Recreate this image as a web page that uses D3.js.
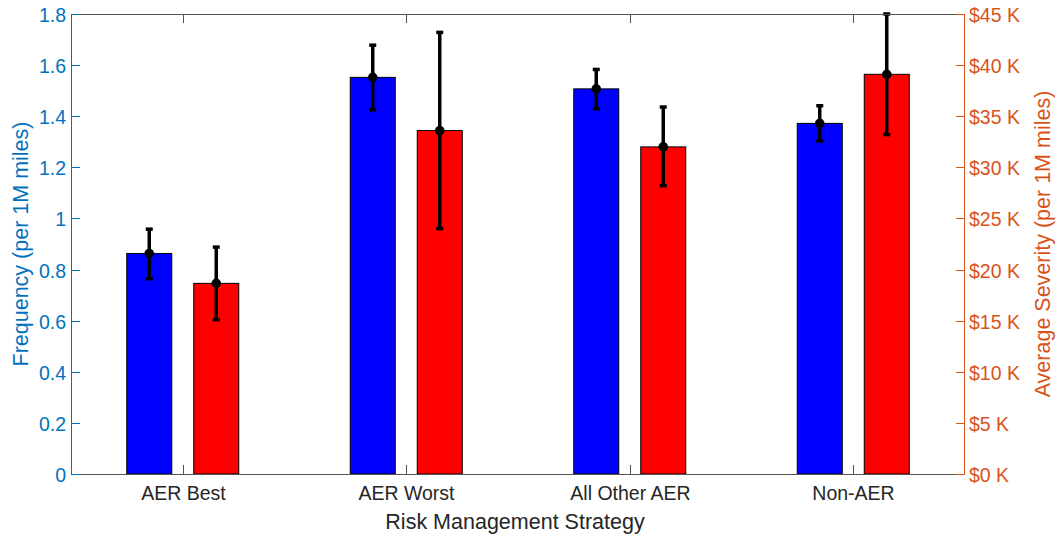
<!DOCTYPE html>
<html><head><meta charset="utf-8">
<script src="https://cdn.jsdelivr.net/npm/d3@7"></script>
<style>body{margin:0;background:#fff;} svg{display:block;font-family:"Liberation Sans",Arial,sans-serif;}</style>
</head><body>
<script>
const categories = ["AER Best","AER Worst","All Other AER","Non-AER"];
const frequency = [0.863,1.552,1.507,1.372];
const frequencyLow = [0.764,1.425,1.429,1.303];
const frequencyHigh = [0.958,1.678,1.583,1.441];
const severity = [18.65,33.6,32.0,39.1];
const severityLow = [15.1,24.0,28.2,33.2];
const severityHigh = [22.2,43.2,35.9,45.0];
const leftTicks = [0,0.2,0.4,0.6,0.8,1,1.2,1.4,1.6,1.8];
const rightTicks = [0,5,10,15,20,25,30,35,40,45];

const W=1061,H=537;
const m={l:71,r:96,t:14,b:63};
const x0=m.l,x1=W-m.r,y0=H-m.b,y1=m.t;
const svg=d3.select("body").append("svg").attr("width",W).attr("height",H);
const x=d3.scaleBand().domain(categories).range([x0,x1]).padding(0);
const yL=d3.scaleLinear().domain([0,1.8]).range([y0,y1]);
const yR=d3.scaleLinear().domain([0,45]).range([y0,y1]);
const blue="#0072BD",orange="#D95319";
const off=33.5,bw=45;
const tickFS=19.5,labFS=21.5;

// bars
const g=svg.append("g");
g.selectAll(".bb").data(categories).join("rect")
 .attr("x",d=>x(d)+x.bandwidth()/2-off-bw/2).attr("width",bw)
 .attr("y",(d,i)=>yL(frequency[i])).attr("height",(d,i)=>y0-yL(frequency[i]))
 .attr("fill","#0000FF").attr("stroke","#000").attr("stroke-width",1);
g.selectAll(".rb").data(categories).join("rect")
 .attr("x",d=>x(d)+x.bandwidth()/2+off-bw/2).attr("width",bw)
 .attr("y",(d,i)=>yR(severity[i])).attr("height",(d,i)=>y0-yR(severity[i]))
 .attr("fill","#FF0000").attr("stroke","#000").attr("stroke-width",1);

// error bars
function err(cx,v,lo,hi,ys){
  const e=svg.append("g");
  e.append("line").attr("x1",cx).attr("x2",cx).attr("y1",ys(lo)).attr("y2",ys(hi)).attr("stroke","#000").attr("stroke-width",3.5);
  [lo,hi].forEach(t=>e.append("line").attr("x1",cx-3.5).attr("x2",cx+3.5).attr("y1",ys(t)).attr("y2",ys(t)).attr("stroke","#000").attr("stroke-width",3.5));
  e.append("circle").attr("cx",cx).attr("cy",ys(v)).attr("r",4.8).attr("fill","#000");
}
categories.forEach((c,i)=>{
  const cx=x(c)+x.bandwidth()/2;
  err(cx-off,frequency[i],frequencyLow[i],frequencyHigh[i],yL);
  err(cx+off,severity[i],severityLow[i],severityHigh[i],yR);
});

// box top/bottom
svg.append("line").attr("x1",x0).attr("x2",x1).attr("y1",y1+0.5).attr("y2",y1+0.5).attr("stroke","#555").attr("stroke-width",1);
svg.append("line").attr("x1",x0).attr("x2",x1).attr("y1",y0+0.5).attr("y2",y0+0.5).attr("stroke","#555").attr("stroke-width",1);
// x ticks
categories.forEach(c=>{
  const cx=Math.round(x(c)+x.bandwidth()/2)+0.5;
  svg.append("line").attr("x1",cx).attr("x2",cx).attr("y1",y0).attr("y2",y0-9).attr("stroke","#555");
  svg.append("line").attr("x1",cx).attr("x2",cx).attr("y1",y1).attr("y2",y1+9).attr("stroke","#555");
  svg.append("text").attr("x",cx).attr("y",y0+26).attr("text-anchor","middle").attr("font-size",tickFS).attr("fill","#262626").text(c);
});
svg.append("text").attr("x",(x0+x1)/2-3).attr("y",529).attr("text-anchor","middle").attr("font-size",labFS).attr("fill","#262626").text("Risk Management Strategy");

// left axis
svg.append("line").attr("x1",x0+0.5).attr("x2",x0+0.5).attr("y1",y0).attr("y2",y1).attr("stroke",blue);
leftTicks.forEach(t=>{
  const yy=Math.round(yL(t))+0.5;
  svg.append("line").attr("x1",x0).attr("x2",x0+9).attr("y1",yy).attr("y2",yy).attr("stroke",blue);
  svg.append("text").attr("x",x0-5).attr("y",yy+7).attr("text-anchor","end").attr("font-size",tickFS).attr("fill",blue).text(d3.format("~g")(t));
});
svg.append("text").attr("transform",`translate(28,${(y0+y1)/2}) rotate(-90)`).attr("text-anchor","middle").attr("font-size",labFS).attr("fill",blue).text("Frequency (per 1M miles)");

// right axis
svg.append("line").attr("x1",x1-0.5).attr("x2",x1-0.5).attr("y1",y0).attr("y2",y1).attr("stroke",orange);
rightTicks.forEach(t=>{
  const yy=Math.round(yR(t))+0.5;
  svg.append("line").attr("x1",x1).attr("x2",x1-9).attr("y1",yy).attr("y2",yy).attr("stroke",orange);
  svg.append("text").attr("x",x1+4).attr("y",yy+7).attr("text-anchor","start").attr("font-size",tickFS).attr("fill",orange).text("$"+t+" K");
});
svg.append("text").attr("transform",`translate(1050,${(y0+y1)/2}) rotate(-90)`).attr("text-anchor","middle").attr("font-size",labFS).attr("fill",orange).text("Average Severity (per 1M miles)");
</script>
</body></html>
